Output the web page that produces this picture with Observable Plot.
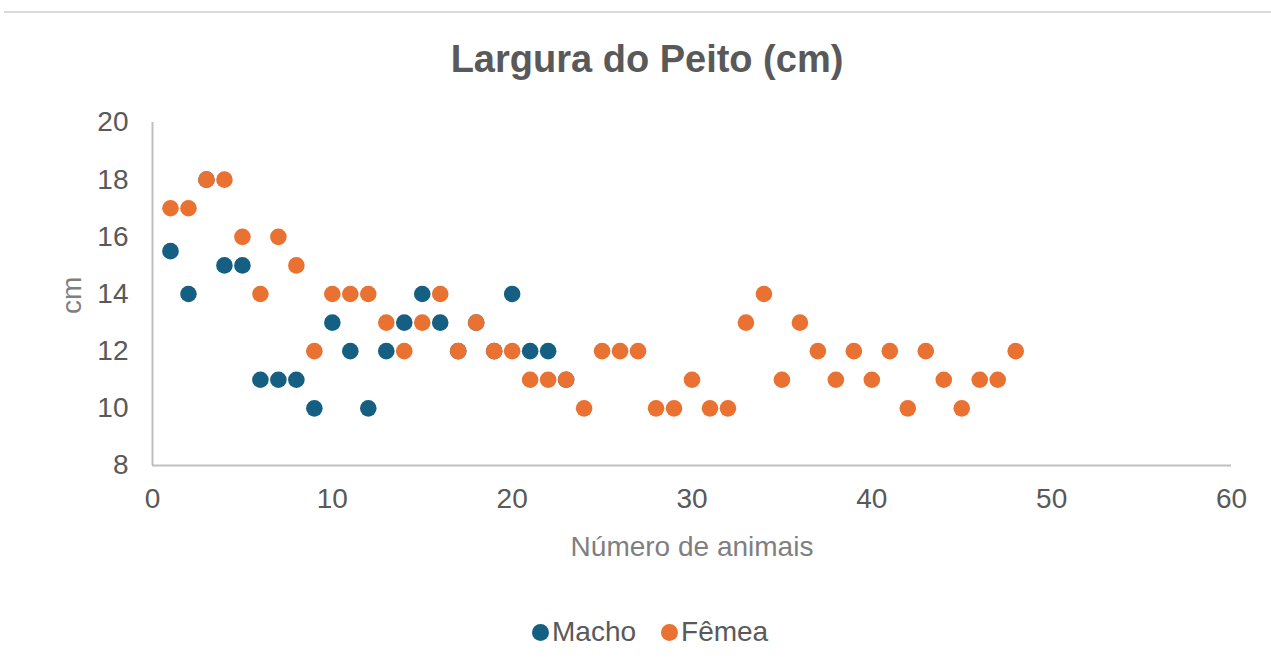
<!DOCTYPE html>
<html><head><meta charset="utf-8">
<script src="https://cdn.jsdelivr.net/npm/d3@7"></script>
<script src="https://cdn.jsdelivr.net/npm/@observablehq/plot@0.6"></script>
<style>
body{margin:0;background:#fff;}
#chart{position:relative;width:1271px;height:671px;overflow:hidden;font-family:"Liberation Sans",Arial,sans-serif;background:#fff;}
#border{position:absolute;left:4px;right:0;top:11px;border-top:2px solid #d9d9d9;}
#title{position:absolute;left:0;width:1294px;top:40px;text-align:center;font-weight:bold;font-size:38px;line-height:38px;color:#595959;white-space:nowrap;}
#plot{position:absolute;left:0;top:90px;}
#legend{position:absolute;left:532px;top:618px;display:flex;align-items:center;font-size:28px;line-height:28px;color:#595959;white-space:nowrap;}
.item{display:flex;align-items:center;margin-right:25px;}
.sw{width:17px;height:17px;border-radius:50%;margin-right:3px;}
</style>
</head><body>
<div id="chart">
  <div id="border"></div>
  <div id="title">Largura do Peito (cm)</div>
  <div id="plot"></div>
  <div id="legend"></div>
</div>
<script>
const seriesNames = ["Macho", "Fêmea"];
const seriesColors = ["#156082", "#E97132"];

const machoAnimal = [1,2,3,4,5,6,7,8,9,10,11,12,13,14,15,16,17,18,19,20,21,22,23];
const machoCm     = [15.5,14,18,15,15,11,11,11,10,13,12,10,12,13,14,13,12,13,12,14,12,12,11];

const femeaAnimal = [1,2,3,4,5,6,7,8,9,10,11,12,13,14,15,16,17,18,19,20,21,22,23,24,25,26,27,28,29,30,31,32,33,34,35,36,37,38,39,40,41,42,43,44,45,46,47,48];
const femeaCm     = [17,17,18,18,16,14,16,15,12,14,14,14,13,12,13,14,12,13,12,12,11,11,11,10,12,12,12,10,10,11,10,10,13,14,11,13,12,11,12,11,12,10,12,11,10,11,11,12];

const xTicks = [0,10,20,30,40,50,60];
const yTicks = [8,10,12,14,16,18,20];

const macho = machoAnimal.map((a,i)=>({animal:a, cm:machoCm[i]}));
const femea = femeaAnimal.map((a,i)=>({animal:a, cm:femeaCm[i]}));

const chart = Plot.plot({
  width: 1271,
  height: 480,
  marginTop: 32,
  marginBottom: 105,
  marginLeft: 152,
  marginRight: 40,
  style: {fontFamily: '"Liberation Sans", Arial, sans-serif', fontSize: "28px", color: "#595959", background: "transparent", overflow: "visible"},
  x: {domain: [0, 60]},
  y: {domain: [8, 20]},
  marks: [
    Plot.axisY({ticks: yTicks, tickSize: 0, tickPadding: 24, label: null, fontSize: 28}),
    Plot.axisX({ticks: xTicks, tickSize: 0, tickPadding: 23, label: null, fontSize: 28}),
    Plot.ruleX([0], {stroke: "#bfbfbf", strokeWidth: 2}),
    Plot.ruleY([8], {stroke: "#bfbfbf", strokeWidth: 2}),
    Plot.dot(macho, {x: "animal", y: "cm", r: 8.3, fill: seriesColors[0], stroke: null}),
    Plot.dot(femea, {x: "animal", y: "cm", r: 8.3, fill: seriesColors[1], stroke: null}),
    Plot.text(["Número de animais"], {frameAnchor: "bottom", dy: 90, fill: "#7f7f7f", fontSize: 28}),
    Plot.text(["cm"], {frameAnchor: "left", dx: -80, dy: 20, rotate: -90, fill: "#7f7f7f", fontSize: 28})
  ]
});
document.getElementById("plot").appendChild(chart);

const legend = document.getElementById("legend");
seriesNames.forEach((n,i)=>{
  const it = document.createElement("div");
  it.className = "item";
  const sw = document.createElement("span");
  sw.className = "sw";
  sw.style.background = seriesColors[i];
  const tx = document.createElement("span");
  tx.textContent = n;
  it.appendChild(sw); it.appendChild(tx);
  legend.appendChild(it);
});
</script>
</body></html>
